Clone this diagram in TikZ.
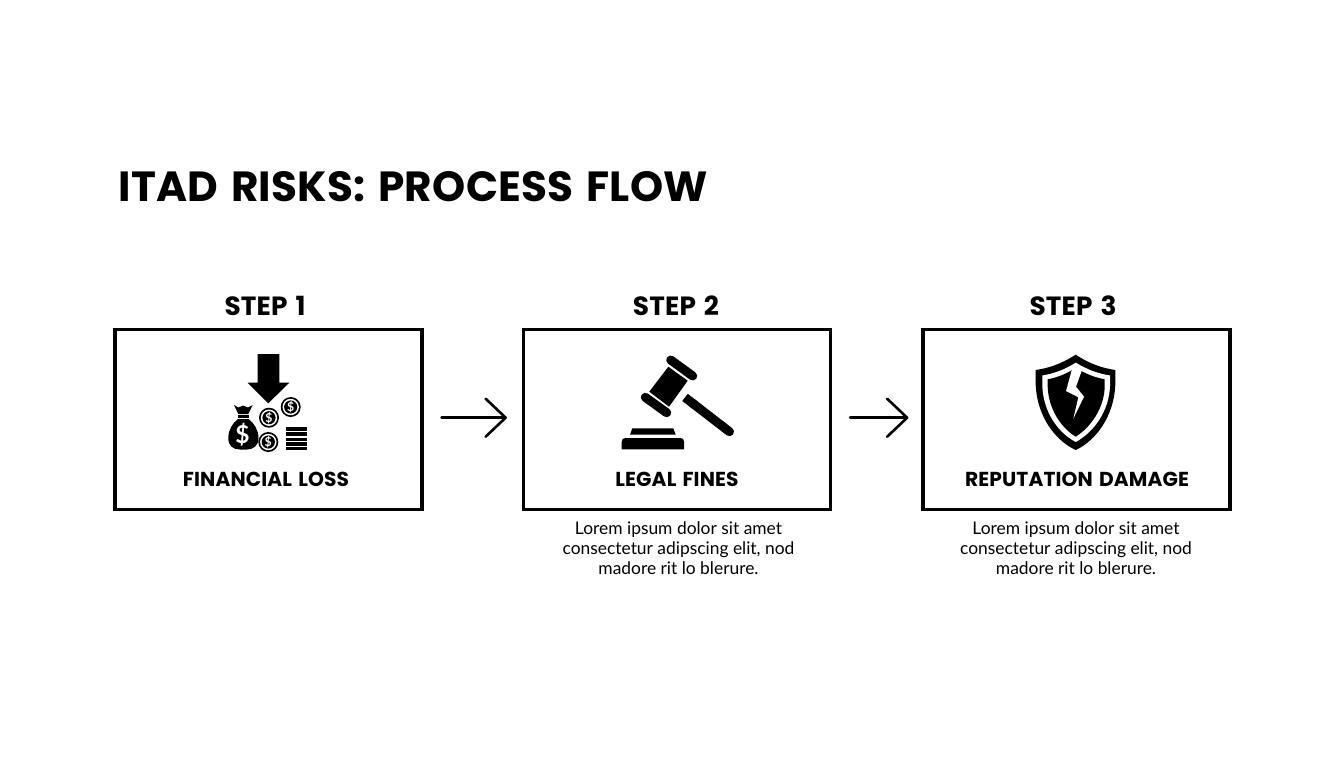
\documentclass[tikz,border=0pt]{standalone}
\usepackage{fontspec}
\setmainfont{Lato}
\newfontfamily\headfont{Poppins}[WordSpace=1.4,LetterSpace=0.6]
\usetikzlibrary{arrows.meta}

\tikzset{
    flowbox/.style={draw, line width=0.064cm, minimum width=6.14cm, minimum height=3.6cm},
    steplabel/.style={font=\headfont\fontsize{15}{16}\selectfont\bfseries},
    boxlabel/.style={font=\headfont\fontsize{11.5}{14}\selectfont\bfseries},
    bodytext/.style={align=center, font=\fontsize{9.9}{11.3}\selectfont},
    flowarrow/.style={line width=0.052cm, line cap=round, -{Straight Barb[length=0.4cm, width=0.76cm, round]}},
    coinmark/.style={text=white, inner sep=0pt, font=\fontsize{7}{7}\selectfont\bfseries},
}

\begin{document}
\begin{tikzpicture}[x=0.02cm, y=-0.02cm]
    \useasboundingbox (0,0) rectangle (1344,768);

    \node[anchor=west, inner sep=0pt, font=\headfont\fontsize{24}{28}\selectfont\bfseries] (title) at (118,187) {ITAD RISKS: PROCESS FLOW};

    % boxes
    \node[flowbox] (boxa) at (268.5,419.5) {};
    \node[flowbox] (boxb) at (677,419.5) {};
    \node[flowbox] (boxc) at (1076.5,419.5) {};

    \node[steplabel] (stepa) at (265,306) {STEP 1};
    \node[steplabel] (stepb) at (676,306) {STEP 2};
    \node[steplabel] (stepc) at (1073,306) {STEP 3};

    \node[boxlabel] (namea) at (266,479.5) {FINANCIAL LOSS};
    \node[boxlabel] (nameb) at (677,479.5) {LEGAL FINES};
    \node[boxlabel] (namec) at (1077,479.5) {REPUTATION DAMAGE};

    \node[bodytext] (textb) at (678.5,548) {Lorem ipsum dolor sit amet\\consectetur adipscing elit, nod\\madore rit lo blerure.};
    \node[bodytext] (textc) at (1076,548) {Lorem ipsum dolor sit amet\\consectetur adipscing elit, nod\\madore rit lo blerure.};

    \draw[flowarrow, shorten <=0.36cm, shorten >=0.3cm] ([yshift=0.036cm]boxa.east) -- ([yshift=0.036cm]boxb.west);
    \draw[flowarrow, shorten <=0.36cm, shorten >=0.26cm] ([yshift=0.036cm]boxb.east) -- ([yshift=0.036cm]boxc.west);

    % money icon
    \fill (257.7,354) -- (279.3,354) -- (279.3,382.7) -- (289.3,382.7) -- (268.3,403.3) -- (247.7,382.7) -- (257.7,382.7) -- cycle;
    \foreach \cx/\cy/\cname in {290.7/407/coina, 269/417.7/coinb, 268.3/442/coinc} {
        \fill (\cx,\cy) circle (10);
        \fill[white] (\cx,\cy) circle (8.2);
        \fill (\cx,\cy) circle (6.6);
        \node[coinmark] (\cname) at (\cx,\cy) {\$};
    }
    \foreach \y in {427.3,432.4,437.6,442.3,447}
        \fill (285.5,\y) rectangle (307.3,\y+3.4);
    \fill (234,405) -- (238.5,407.5) -- (243,405.5) -- (248,407.5) -- (252.7,405) -- (248.3,414) -- (238.3,414) -- cycle;
    \fill (237.5,415) rectangle (248.5,418);
    \fill (238,419) -- (248.5,419) .. controls (254,423) and (258.5,430) .. (258.5,438) .. controls (258.5,446) and (253,449.5) .. (247,449.5) -- (240,449.5) .. controls (233,449.5) and (228.3,446) .. (228.3,438) .. controls (228.3,430) and (232.5,423) .. (238,419) -- cycle;
    \node[text=white, inner sep=0pt, font=\fontsize{14}{14}\selectfont\bfseries] (bagmark) at (242.5,434.3) {\$};

    % gavel icon
    \fill (668.3,366.7) -- (687.7,380.7) -- (669,406.7) -- (649.3,391.7) -- cycle;
    \draw[line width=0.18cm, line cap=round] (670.7,360) -- (692.7,376);
    \draw[line width=0.18cm, line cap=round] (645.3,397.3) -- (666.7,412.7);
    \draw[line width=0.18cm, line cap=round] (692,402.8) -- (729.5,431.7);
    \draw[line width=0.18cm] (685,397.4) -- (695,405.1);
    \fill (632.3,428.3) -- (673.3,428.3) -- (675.7,434.7) -- (630,434.7) -- cycle;
    \fill (621.7,449.3) -- (621.7,442) .. controls (621.7,439) and (623,438) .. (626,438) -- (680,438) .. controls (683,438) and (684,439) .. (684,442) -- (684,449.3) -- cycle;

    % shield icon
    \fill (1075.7,354.7) .. controls (1090,364) and (1102,368) .. (1115.3,370) -- (1115.3,385) .. controls (1114,415) and (1097,440) .. (1075.7,450) .. controls (1054,440) and (1037,415) .. (1035.7,385) -- (1035.7,370) .. controls (1049,368) and (1061,364) .. (1075.7,354.7) -- cycle;
    \fill[white] (1075.7,362.7) .. controls (1088,370) and (1098,373.5) .. (1110,375.5) -- (1110,386) .. controls (1109,411) and (1094,432) .. (1075.7,442) .. controls (1057,432) and (1043.3,411) .. (1042.3,386) -- (1042.3,375.5) .. controls (1054,373.5) and (1064,370) .. (1075.7,362.7) -- cycle;
    \fill (1075.7,368) .. controls (1086,374) and (1095,377.5) .. (1104.7,379.3) -- (1104.7,387) .. controls (1104,408) and (1091,427) .. (1075.7,436.7) .. controls (1060,427) and (1048.5,408) .. (1047.7,387) -- (1047.7,379.3) .. controls (1057,377.5) and (1066,374) .. (1075.7,368) -- cycle;
    \fill[white] (1072.3,368) -- (1082.7,368) -- (1076,386.7) -- (1084,396.7) -- (1073.3,418.7) -- (1078.3,397.3) -- (1066,391) -- cycle;
\end{tikzpicture}
\end{document}
